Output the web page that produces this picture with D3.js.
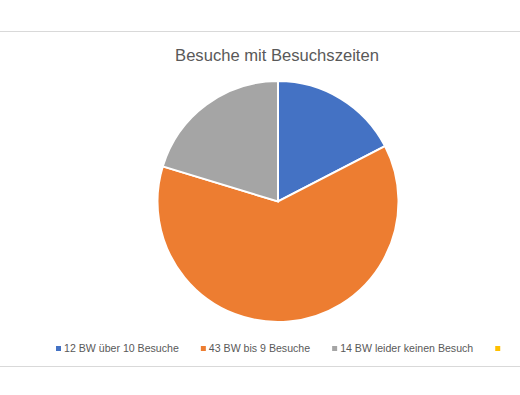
<!DOCTYPE html>
<html>
<head>
<meta charset="utf-8">
<script src="https://cdn.jsdelivr.net/npm/d3@7"></script>
<style>
  body { margin: 0; background: #fff; }
  text { font-family: "Liberation Sans", "DejaVu Sans", sans-serif; fill: #595959; }
</style>
</head>
<body>
<svg width="520" height="395"></svg>
<script>
var title = "Besuche mit Besuchszeiten";
var labels = ["12 BW über 10 Besuche", "43 BW bis 9 Besuche", "14 BW leider keinen Besuch", ""];
var values = [12, 43, 14, 0];
var colors = ["#4472c4", "#ed7d31", "#a5a5a5", "#ffc000"];

var svg = d3.select("svg");
var width = +svg.attr("width");

// frame lines
svg.append("line").attr("x1", 0).attr("x2", width).attr("y1", 31.5).attr("y2", 31.5)
    .attr("stroke", "#d9d9d9").attr("stroke-width", 1);
svg.append("line").attr("x1", 0).attr("x2", width).attr("y1", 366.5).attr("y2", 366.5)
    .attr("stroke", "#d9d9d9").attr("stroke-width", 1);

svg.append("text")
    .attr("x", 277).attr("y", 61)
    .attr("text-anchor", "middle")
    .style("font-size", "16.6px")
    .text(title);

var data = labels.map(function(l, i) { return {label: l, value: values[i], color: colors[i]}; });

var pie = d3.pie().sort(null).value(function(d) { return d.value; });
var arc = d3.arc().innerRadius(0).outerRadius(120.5);

var g = svg.append("g").attr("transform", "translate(278,201.5)");
g.selectAll("path")
    .data(pie(data))
  .enter().append("path")
    .attr("d", arc)
    .attr("fill", function(d) { return d.data.color; })
    .attr("stroke", "#fff")
    .attr("stroke-width", 2);

// legend, flowing left to right
var legend = svg.append("g").attr("transform", "translate(56,352)");
var xPos = 0;
data.forEach(function(d) {
  var item = legend.append("g").attr("transform", "translate(" + xPos + ",0)");
  item.append("rect").attr("x", 0).attr("y", -6).attr("width", 5).attr("height", 5).attr("fill", d.color);
  var t = item.append("text").attr("x", 8).attr("y", 0).style("font-size", "10.6px").text(d.label);
  xPos += 8 + t.node().getComputedTextLength() + 22;
});
</script>
</body>
</html>
